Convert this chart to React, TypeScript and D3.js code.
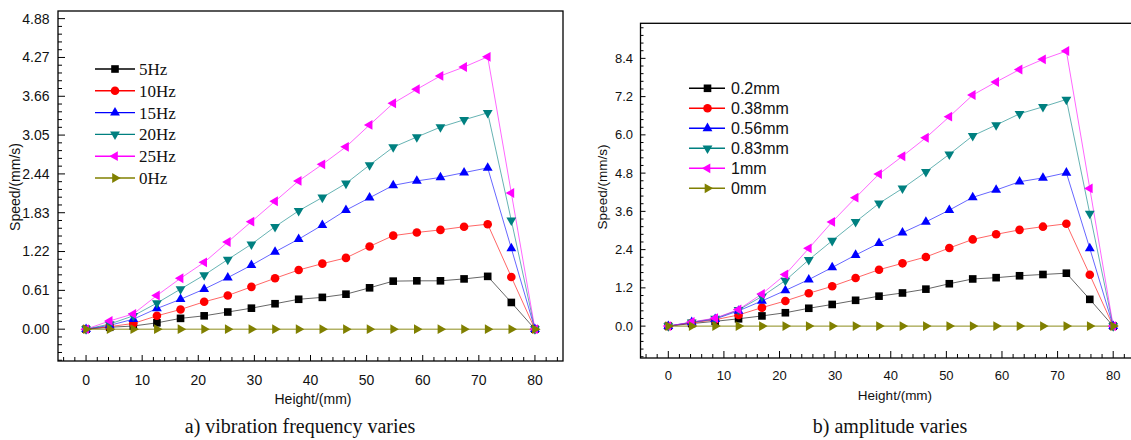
import React from 'react';
import * as d3 from 'd3';

// ---------- data ----------
const heights = [0, 4.21, 8.42, 12.63, 16.84, 21.05, 25.26, 29.47, 33.68, 37.89, 42.11, 46.32, 50.53, 54.74, 58.95, 63.16, 67.37, 71.58, 75.79, 80];

const freqLabels = ['5Hz', '10Hz', '15Hz', '20Hz', '25Hz', '0Hz'];
const speed5Hz = [0, 0.03, 0.05, 0.10, 0.17, 0.21, 0.27, 0.33, 0.40, 0.47, 0.50, 0.55, 0.65, 0.755, 0.76, 0.76, 0.79, 0.83, 0.42, 0];
const speed10Hz = [0, 0.04, 0.09, 0.21, 0.31, 0.43, 0.53, 0.665, 0.80, 0.93, 1.03, 1.12, 1.30, 1.47, 1.52, 1.56, 1.61, 1.65, 0.82, 0];
const speed15Hz = [0, 0.06, 0.157, 0.325, 0.47, 0.63, 0.81, 1.005, 1.215, 1.415, 1.635, 1.87, 2.065, 2.26, 2.33, 2.385, 2.46, 2.535, 1.27, 0];
const speed20Hz = [0, 0.08, 0.21, 0.41, 0.63, 0.85, 1.095, 1.335, 1.61, 1.86, 2.07, 2.29, 2.58, 2.86, 3.02, 3.175, 3.29, 3.40, 1.71, 0];
const speed25Hz = [0, 0.13, 0.24, 0.53, 0.80, 1.05, 1.37, 1.69, 2.01, 2.33, 2.59, 2.865, 3.21, 3.55, 3.77, 3.98, 4.12, 4.28, 2.14, 0];
const speed0Hz = [0, 0, 0, 0, 0, 0, 0, 0, 0, 0, 0, 0, 0, 0, 0, 0, 0, 0, 0, 0];

const ampLabels = ['0.2mm', '0.38mm', '0.56mm', '0.83mm', '1mm', '0mm'];
const speed02mm = [0, 0.08, 0.15, 0.23, 0.32, 0.42, 0.56, 0.68, 0.81, 0.94, 1.04, 1.16, 1.33, 1.48, 1.52, 1.58, 1.62, 1.66, 0.84, 0];
const speed038mm = [0, 0.10, 0.20, 0.35, 0.58, 0.79, 1.03, 1.25, 1.51, 1.77, 1.97, 2.17, 2.45, 2.72, 2.88, 3.02, 3.12, 3.21, 1.61, 0];
const speed056mm = [0, 0.12, 0.22, 0.48, 0.79, 1.12, 1.46, 1.84, 2.23, 2.60, 2.93, 3.27, 3.64, 4.04, 4.27, 4.53, 4.65, 4.81, 2.44, 0];
const speed083mm = [0, 0.12, 0.24, 0.51, 0.93, 1.43, 2.08, 2.68, 3.27, 3.85, 4.32, 4.84, 5.39, 5.97, 6.31, 6.66, 6.88, 7.11, 3.53, 0];
const speed1mm = [0, 0.13, 0.25, 0.52, 1.01, 1.62, 2.44, 3.27, 4.03, 4.77, 5.33, 5.91, 6.57, 7.25, 7.66, 8.05, 8.37, 8.63, 4.32, 0];
const speed0mm = [0, 0, 0, 0, 0, 0, 0, 0, 0, 0, 0, 0, 0, 0, 0, 0, 0, 0, 0, 0];

const heightTicks = [0, 10, 20, 30, 40, 50, 60, 70, 80];
const freqYTicks = [0, 0.61, 1.22, 1.83, 2.44, 3.05, 3.66, 4.27, 4.88];
const ampYTicks = [0, 1.2, 2.4, 3.6, 4.8, 6.0, 7.2, 8.4];

const seriesColors = ['#000000', '#ff0000', '#0000ff', '#008080', '#ff00ff', '#808000'];
const seriesShapes = ['square', 'circle', 'up', 'down', 'left', 'right'];

const SANS = "Arial, 'Liberation Sans', Helvetica, sans-serif";
const SERIF = "'Times New Roman', 'Liberation Serif', Times, serif";

// ---------- marker ----------
const triPath = d3.symbol().type(d3.symbolTriangle).size(42)() as string;

function Marker({ shape, x, y, color }: { shape: string; x: number; y: number; color: string }) {
  if (shape === 'circle') return <circle cx={x} cy={y} r={4.3} fill={color} />;
  if (shape === 'square') return <rect x={x - 3.8} y={y - 3.8} width={7.6} height={7.6} fill={color} />;
  const rot = shape === 'up' ? 0 : shape === 'down' ? 180 : shape === 'left' ? -90 : 90;
  return <path d={triPath} fill={color} transform={`translate(${x},${y}) rotate(${rot})`} />;
}

type PanelCfg = {
  left: number; right: number; top: number; bottom: number;
  xDomain: [number, number]; yDomain: [number, number];
  yTicks: number[]; yFmt: (v: number) => string;
  series: number[][]; labels: string[];
  tickFont: number; yTickLabelX: number; xTickBaseline: number;
  yMajor: number; yMinor: number; xMajor: number; xMinor: number;
  xTitleX: number; xTitleY: number; titleFont: number;
  yTitleX: number; yTitleY: number;
  caption: string; captionX: number; captionY: number;
  legLine: [number, number]; legMarkerX: number; legTextX: number; legY0: number; legStep: number;
  legFont: string; legSize: number;
};

function Panel({ c }: { c: PanelCfg }) {
  const x = d3.scaleLinear().domain(c.xDomain).range([c.left, c.right]);
  const y = d3.scaleLinear().domain(c.yDomain).range([c.bottom, c.top]);
  const line = d3.line<number>().x((_, i) => x(heights[i])).y((d) => y(d));

  const yStep = c.yTicks[1] - c.yTicks[0];
  const yMinorStep = yStep / 5;
  const yMinors: number[] = [];
  for (let k = Math.ceil(c.yDomain[0] / yMinorStep); k * yMinorStep <= c.yDomain[1] + 1e-9; k++) {
    if (k % 5 !== 0) yMinors.push(k * yMinorStep);
  }
  const xMinors: number[] = [];
  for (let v = Math.ceil(c.xDomain[0] / 2) * 2; v <= c.xDomain[1]; v += 2) {
    if (v % 10 !== 0) xMinors.push(v);
  }

  return (
    <g>
      {/* series lines */}
      {c.series.map((s, i) => (
        <path key={'l' + i} d={line(s) as string} fill="none" stroke={seriesColors[i]} strokeWidth={1} strokeOpacity={i === 5 ? 0.9 : 0.6} />
      ))}
      {/* markers */}
      {c.series.map((s, i) => (
        <g key={'m' + i}>
          {s.map((v, j) => (
            <Marker key={j} shape={seriesShapes[i]} x={x(heights[j])} y={y(v)} color={seriesColors[i]} />
          ))}
        </g>
      ))}
      {/* frame */}
      <rect x={c.left} y={c.top} width={c.right - c.left} height={c.bottom - c.top} fill="none" stroke="#000" strokeWidth={1.3} />
      {/* y ticks */}
      {c.yTicks.map((t) => (
        <g key={'yt' + t}>
          <line x1={c.left} x2={c.left + c.yMajor} y1={y(t)} y2={y(t)} stroke="#000" strokeWidth={1} />
          <text x={c.yTickLabelX} y={y(t)} dy="0.35em" textAnchor="end" fontFamily={SANS} fontSize={c.tickFont} fill="#111">
            {c.yFmt(t)}
          </text>
        </g>
      ))}
      {yMinors.map((t) => (
        <line key={'ym' + t} x1={c.left} x2={c.left + c.yMinor} y1={y(t)} y2={y(t)} stroke="#000" strokeWidth={1} />
      ))}
      {/* x ticks */}
      {heightTicks.map((t) => (
        <g key={'xt' + t}>
          <line x1={x(t)} x2={x(t)} y1={c.bottom} y2={c.bottom - c.xMajor} stroke="#000" strokeWidth={1} />
          <text x={x(t)} y={c.xTickBaseline} textAnchor="middle" fontFamily={SANS} fontSize={c.tickFont} fill="#111">
            {t}
          </text>
        </g>
      ))}
      {xMinors.map((t) => (
        <line key={'xm' + t} x1={x(t)} x2={x(t)} y1={c.bottom} y2={c.bottom - c.xMinor} stroke="#000" strokeWidth={1} />
      ))}
      {/* titles */}
      <text x={c.xTitleX} y={c.xTitleY} textAnchor="middle" fontFamily={SANS} fontSize={c.titleFont} fill="#111">
        Height/(mm)
      </text>
      <text
        transform={`translate(${c.yTitleX},${c.yTitleY}) rotate(-90)`}
        dy="0.35em"
        textAnchor="middle"
        fontFamily={SANS}
        fontSize={c.titleFont}
        fill="#111"
      >
        Speed/(mm/s)
      </text>
      <text x={c.captionX} y={c.captionY} textAnchor="middle" fontFamily={SERIF} fontSize={20} fill="#111">
        {c.caption}
      </text>
      {/* legend */}
      {c.labels.map((lab, i) => {
        const ly = c.legY0 + i * c.legStep;
        return (
          <g key={'lg' + i}>
            <line x1={c.legLine[0]} x2={c.legLine[1]} y1={ly} y2={ly} stroke={seriesColors[i]} strokeWidth={1.4} />
            <Marker shape={seriesShapes[i]} x={c.legMarkerX} y={ly} color={seriesColors[i]} />
            <text x={c.legTextX} y={ly} dy="0.35em" fontFamily={c.legFont} fontSize={c.legSize} fill="#111">
              {lab}
            </text>
          </g>
        );
      })}
    </g>
  );
}

const leftCfg: PanelCfg = {
  left: 58, right: 563, top: 11, bottom: 361,
  xDomain: [-5, 85], yDomain: [-0.5, 5.0],
  yTicks: freqYTicks, yFmt: (v) => v.toFixed(2),
  series: [speed5Hz, speed10Hz, speed15Hz, speed20Hz, speed25Hz, speed0Hz],
  labels: freqLabels,
  tickFont: 14, yTickLabelX: 49.5, xTickBaseline: 385,
  yMajor: 7, yMinor: 4, xMajor: 6, xMinor: 4,
  xTitleX: 313, xTitleY: 404, titleFont: 14,
  yTitleX: 15, yTitleY: 187,
  caption: 'a) vibration frequency varies', captionX: 300, captionY: 433,
  legLine: [95, 135], legMarkerX: 115, legTextX: 139, legY0: 69, legStep: 21.8,
  legFont: SERIF, legSize: 17,
};

const rightCfg: PanelCfg = {
  left: 640.5, right: 1141, top: 23.3, bottom: 358,
  xDomain: [-5, 85], yDomain: [-1, 9.5],
  yTicks: ampYTicks, yFmt: (v) => v.toFixed(1),
  series: [speed02mm, speed038mm, speed056mm, speed083mm, speed1mm, speed0mm],
  labels: ampLabels,
  tickFont: 13, yTickLabelX: 633, xTickBaseline: 379.5,
  yMajor: 5, yMinor: 3, xMajor: 7, xMinor: 4,
  xTitleX: 895, xTitleY: 400, titleFont: 13.5,
  yTitleX: 602, yTitleY: 187,
  caption: 'b) amplitude varies', captionX: 890, captionY: 433,
  legLine: [689, 725], legMarkerX: 707.5, legTextX: 731, legY0: 88.3, legStep: 20,
  legFont: SANS, legSize: 16,
};

export default function App() {
  return (
    <div style={{ position: 'absolute', left: 0, top: 0, width: 1131, height: 440, overflow: 'hidden', background: '#fff' }}>
      <svg width={1131} height={440} style={{ display: 'block' }}>
        <rect x={0} y={0} width={1131} height={440} fill="#fff" />
        <Panel c={leftCfg} />
        <Panel c={rightCfg} />
      </svg>
    </div>
  );
}
